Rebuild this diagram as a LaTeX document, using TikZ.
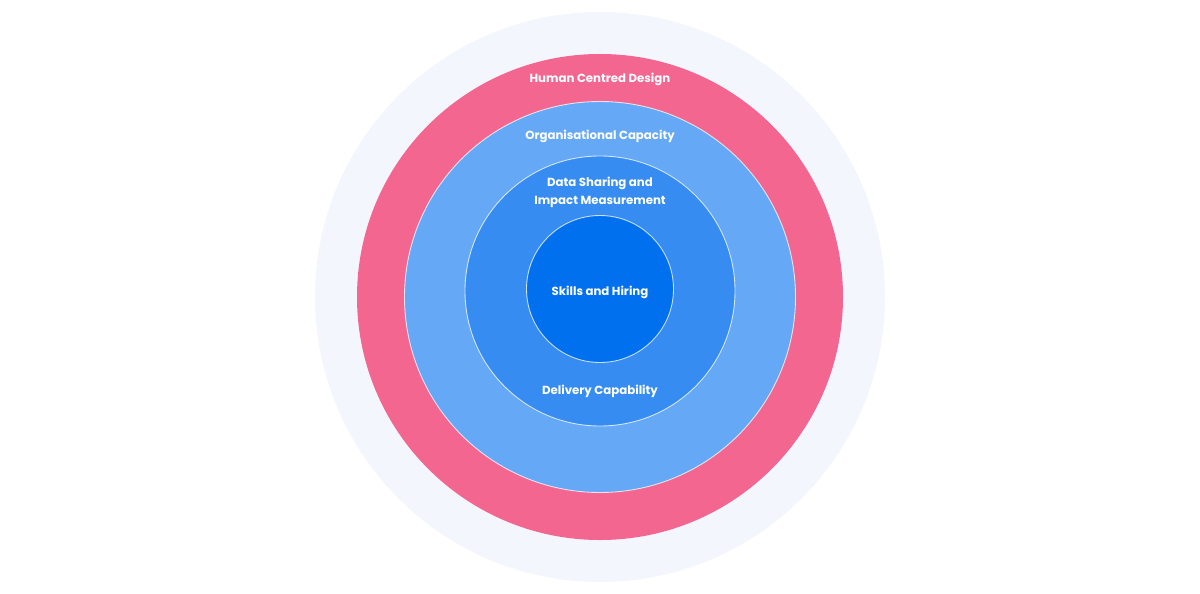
\documentclass[tikz,border=0pt]{standalone}
\usepackage{fontspec}
\setmainfont{Poppins}
\usetikzlibrary{positioning}
\definecolor{haloc}{HTML}{F3F7FD}
\definecolor{pinkc}{HTML}{F36690}
\definecolor{lightc}{HTML}{65A8F5}
\definecolor{midc}{HTML}{368CF1}
\definecolor{corec}{HTML}{0070EE}

\begin{document}
\begin{tikzpicture}[x=1bp, y=-1bp,
        ring/.style={circle, inner sep=0pt, outer sep=0pt},
        edge/.style={draw=white, draw opacity=0.75, line width=0.9bp},
        lbl/.style={text=white, font=\bfseries\fontsize{11.8}{17.5}\selectfont, align=center}]
        % page
        \useasboundingbox (0,0) rectangle (1200,594);
        \fill[white] (0,0) rectangle (1200,594);

        % rings, outside in
        \node[ring, fill=haloc, minimum size=570bp] (halo) at (600,297) {};
        \node[ring, fill=pinkc, minimum size=486bp] (hcd) at (600,297) {};
        \node[ring, edge, fill=lightc, minimum size=391bp] (org) at (600,297) {};
        \node[ring, edge, fill=midc, minimum size=270bp] (dsm) at (600,291) {};
        \node[ring, edge, fill=corec, minimum size=147bp] (core) at (600,289) {};

        % labels
        \node[lbl] (hcdlbl) at (600,79) {Human Centred Design};
        \node[lbl] (orglbl) at (600,136) {Organisational Capacity};
        \node[lbl] (dsmlbl) at (600,192.5) {Data Sharing and\\Impact Measurement};
        \node[lbl] (corelbl) at (600,292) {Skills and Hiring};
        \node[lbl] (dellbl) at (600,391) {Delivery Capability};
\end{tikzpicture}
\end{document}
